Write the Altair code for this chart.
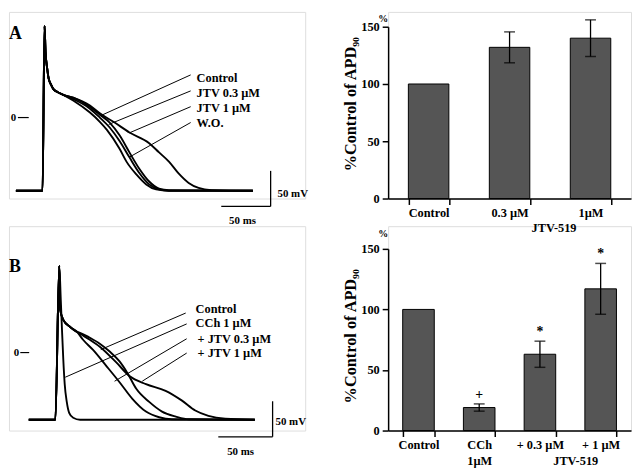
import altair as alt
import pandas as pd

FONT = "Liberation Serif"

# ---------------- Panel A: action potentials (ms, mV) ----------------
A_START_T = [-27, 0, 2, 3, 4.7, 6, 8.7, 11, 15, 21]
A_START_V = [-103, -103, 129, 93, 69, 56, 46, 40, 36, 32]
A_CONTROL_T = [31, 48, 58, 68, 78, 88, 98, 108, 118, 128, 213]
A_CONTROL_V = [28, 15, 4, -7, -25, -49, -72, -90, -100, -102, -103]
A_JTV03_T = [31, 48, 58, 68, 78, 88, 98, 108, 118, 128, 213]
A_JTV03_V = [26, 12.5, 0, -14, -33, -56, -78, -94, -101, -103, -103]
A_JTV1_T = [31, 48, 58, 73, 88, 108, 118, 128, 138, 148, 158, 171, 213]
A_JTV1_V = [28, 17, 6, -7, -21, -36, -49, -62, -79, -92, -99, -102, -103]
A_WO_T = [31, 48, 58, 65, 78, 85, 95, 105, 115, 128, 213]
A_WO_V = [24, 7, -6, -17, -44, -62, -80, -94, -101, -103, -103]

A_LABELS = ["Control", "JTV 0.3 µM", "JTV 1 µM", "W.O."]
A_LABEL_T = [156, 156, 156, 156]
A_LABEL_V = [55.6, 34.7, 13.9, -8.3]
A_LEAD_T0 = [150, 150, 150, 150]
A_LEAD_V0 = [60, 37.5, 15.3, -7]
A_LEAD_T1 = [59.7, 67, 88, 88]
A_LEAD_V1 = [3.2, -9.7, -21.5, -55.6]

# ---------------- Panel B: action potentials (ms, mV) ----------------
B_START_T = [-24.5, 0, 3.6]
B_START_V = [-94.5, -94.5, 122]
B_SHARED_T = [4.5, 7.3, 13.6, 20]
B_SHARED_V = [60, 46, 36, 29]
B_CCH_T = [5, 6.1, 7.3, 8.6, 10.5, 12.7, 16.4, 22.7, 183.6]
B_CCH_V = [73.6, 32, -9.7, -44.4, -69.4, -84.7, -91.7, -94.5, -94.5]
B_CONTROL_T = [22.7, 31.8, 40.9, 50, 59.1, 66.4, 74.5, 86.4, 98.2, 110.9, 122.7, 183.6]
B_CONTROL_V = [27.8, 20.8, 12.5, 1.4, -12.5, -29, -51, -69.4, -83, -90, -93.8, -94.5]
B_JTV03_T = [25.5, 34.5, 47, 59.1, 70.9, 83.4, 95.5, 107.3, 183.6]
B_JTV03_V = [18, 4, -19, -41.7, -65, -83, -91, -93.8, -94.5]
B_JTV1_T = [22.7, 31.8, 40.9, 56.1, 68.2, 83.4, 101.5, 116.6, 128.8, 140.9, 156.4, 183.6]
B_JTV1_V = [26.4, 18, 8.3, -13.9, -33, -44.4, -53.8, -67.6, -81.5, -89, -93, -94.5]

B_LABELS = ["Control", "CCh 1 µM", "+ JTV 0.3 µM", "+ JTV 1 µM"]
B_LABEL_T = [129.1, 129.1, 130.9, 130.9]
B_LABEL_V = [61, 41, 19.4, -0.4]
B_LEAD_T0 = [120, 120.9, 120.9, 120.9]
B_LEAD_V0 = [55.6, 40.3, 19.4, -0.7]
B_LEAD_T1 = [41.8, 9.1, 54.5, 80]
B_LEAD_V1 = [4.2, -34.7, -40.3, -40.3]

# ---------------- Bar charts (% of control APD90) ----------------
A_CATS = ["Control", "0.3 µM", "1µM"]
A_MEAN = [100, 132, 140]
A_SEM = [0, 13.5, 16]
A_MARK = ["", "", ""]

B_CATS = ["Control", "CCh\n1µM", "+ 0.3 µM", "+ 1 µM"]
B_MEAN = [100, 19, 63, 117]
B_SEM = [0, 3, 10.8, 21]
B_MARK = ["", "+", "*", "*"]

Y_TITLE = "%Control of APD₉₀"
GROUP_NOTE = "JTV-519"


def trace_panel(series, leads, labels, extra_segs, extra_texts, xdom, ydom, w, h):
    rows = []
    for name, t, v in series:
        for k, (a, b) in enumerate(zip(t, v)):
            rows.append({"series": name, "i": k, "t": a, "v": b})
    df = pd.DataFrame(rows)
    xs = alt.Scale(domain=xdom, nice=False, zero=False)
    ys = alt.Scale(domain=ydom, nice=False, zero=False)

    lines = alt.Chart(df).mark_line(color="black", strokeWidth=1.9, interpolate="monotone").encode(
        x=alt.X("t:Q", scale=xs, axis=None),
        y=alt.Y("v:Q", scale=ys, axis=None),
        detail="series:N",
        order="i:Q",
    )

    segs = []
    t0, v0, t1, v1 = leads
    for a, b, c, d in zip(t0, v0, t1, v1):
        segs.append({"t0": a, "v0": b, "t1": c, "v1": d, "w": 1.0})
    segs += extra_segs
    seg = alt.Chart(pd.DataFrame(segs)).mark_rule(color="black").encode(
        x=alt.X("t0:Q", scale=xs, axis=None),
        x2="t1:Q",
        y=alt.Y("v0:Q", scale=ys, axis=None),
        y2="v1:Q",
        strokeWidth=alt.StrokeWidth("w:Q", scale=None),
    )

    names, lt, lv = labels
    texts = [{"text": n, "t": a, "v": b, "fs": 12.5, "align": "left"} for n, a, b in zip(names, lt, lv)]
    texts += extra_texts
    tdf = pd.DataFrame(texts)
    layers = [lines, seg]
    for al in ["left", "center"]:
        layers.append(
            alt.Chart(tdf).transform_filter(f"datum.align == '{al}'").mark_text(
                align=al, baseline="middle", font=FONT, fontWeight="bold", color="black"
            ).encode(
                x=alt.X("t:Q", scale=xs, axis=None),
                y=alt.Y("v:Q", scale=ys, axis=None),
                text="text:N",
                size=alt.Size("fs:Q", scale=None),
            )
        )
    return alt.layer(*layers).properties(width=w, height=h)


def bar_panel(cats, means, sems, marks, w, h, yrange, pin, pout, title_y, notes_xy, pct_xy):
    df = pd.DataFrame({"cat": cats, "mean": means, "sem": sems, "mark": marks})
    df["lo"] = df["mean"] - df["sem"]
    df["hi"] = df["mean"] + df["sem"]
    xax = alt.Axis(
        title=None, labelAngle=0, labelExpr="split(datum.label, '\\n')", tickBand="extent",
        labelFont=FONT, labelFontWeight="bold", labelFontSize=12.5, labelColor="black",
        labelPadding=2, labelLineHeight=16, tickSize=6, tickWidth=1.5, tickColor="black",
        domainColor="black", domainWidth=1.5, grid=False,
    )
    x = alt.X("cat:N", sort=cats, scale=alt.Scale(paddingInner=pin, paddingOuter=pout), axis=xax)
    ys = alt.Scale(domain=[0, 150], range=yrange, nice=False, zero=True)
    yax = alt.Axis(
        values=[0, 50, 100, 150], title=Y_TITLE, titleFont=FONT, titleFontWeight="bold",
        titleFontSize=16.5, titleColor="black", titlePadding=2, titleY=title_y,
        labelFont=FONT, labelFontWeight="bold", labelFontSize=12.5, labelColor="black",
        labelPadding=3, tickSize=6, tickWidth=1.5, tickColor="black",
        domainColor="black", domainWidth=1.5, grid=False,
    )
    bars = alt.Chart(df).mark_bar(fill="#555555", stroke="black", strokeWidth=1).encode(
        x=x, y=alt.Y("mean:Q", scale=ys, axis=yax)
    )
    ed = alt.Chart(df).transform_filter("datum.sem > 0")
    err = ed.mark_rule(color="black", strokeWidth=1.3).encode(
        x=x, y=alt.Y("lo:Q", scale=ys, axis=yax), y2="hi:Q"
    )
    cap_hi = ed.mark_tick(color="black", size=11, thickness=1.5).encode(
        x=x, y=alt.Y("hi:Q", scale=ys, axis=yax)
    )
    cap_lo = ed.mark_tick(color="black", size=11, thickness=1.5).encode(
        x=x, y=alt.Y("lo:Q", scale=ys, axis=yax)
    )
    sig = alt.Chart(df).transform_filter("datum.mark != ''").mark_text(
        font=FONT, fontWeight="bold", fontSize=14, color="black", dy=-9
    ).encode(x=x, y=alt.Y("hi:Q", scale=ys, axis=yax), text="mark:N")
    layers = [bars, err, cap_hi, cap_lo, sig]
    for nx, ny in notes_xy:
        layers.append(
            alt.Chart(pd.DataFrame({"s": [GROUP_NOTE]})).mark_text(
                font=FONT, fontWeight="bold", fontSize=12.5, color="black", baseline="middle"
            ).encode(text="s:N", x=alt.value(nx), y=alt.value(ny))
        )
    layers.append(
        alt.Chart(pd.DataFrame({"s": ["%"]})).mark_text(
            font=FONT, fontWeight="bold", fontSize=10, color="black", baseline="middle"
        ).encode(text="s:N", x=alt.value(pct_xy[0]), y=alt.value(pct_xy[1]))
    )
    return alt.layer(*layers).properties(width=w, height=h)


a_series = [
    ("Control", A_START_T + A_CONTROL_T, A_START_V + A_CONTROL_V),
    ("JTV 0.3", A_START_T + A_JTV03_T, A_START_V + A_JTV03_V),
    ("JTV 1", A_START_T + A_JTV1_T, A_START_V + A_JTV1_V),
    ("W.O.", A_START_T + A_WO_T, A_START_V + A_WO_V),
]
a_segs = [
    {"t0": -25, "v0": 0, "t1": -14, "v1": 0, "w": 1.2},
    {"t0": 231, "v0": -75, "t1": 231, "v1": -125, "w": 1.3},
    {"t0": 181, "v0": -125, "t1": 231, "v1": -125, "w": 1.3},
]
a_texts = [
    {"text": "A", "t": -34, "v": 118, "fs": 18, "align": "left"},
    {"text": "50 mV", "t": 238, "v": -107, "fs": 11, "align": "left"},
    {"text": "50 ms", "t": 202.5, "v": -146, "fs": 11, "align": "center"},
    {"text": "0", "t": -29.5, "v": 0, "fs": 11, "align": "center"},
]
trace_a = trace_panel(
    a_series, (A_LEAD_T0, A_LEAD_V0, A_LEAD_T1, A_LEAD_V1), (A_LABELS, A_LABEL_T, A_LABEL_V),
    a_segs, a_texts, [-34, 266], [-113.9, 148.6], 300, 189,
)

b_series = [
    ("Control", B_START_T + B_SHARED_T + B_CONTROL_T, B_START_V + B_SHARED_V + B_CONTROL_V),
    ("CCh", B_START_T + B_CCH_T, B_START_V + B_CCH_V),
    ("JTV 0.3", B_START_T + B_SHARED_T + B_JTV03_T, B_START_V + B_SHARED_V + B_JTV03_V),
    ("JTV 1", B_START_T + B_SHARED_T + B_JTV1_T, B_START_V + B_SHARED_V + B_JTV1_V),
]
b_segs = [
    {"t0": -32.3, "v0": 0, "t1": -24.1, "v1": 0, "w": 1.2},
    {"t0": 200, "v0": -68.5, "t1": 200, "v1": -118.5, "w": 1.3},
    {"t0": 150, "v0": -118.5, "t1": 200, "v1": -118.5, "w": 1.3},
]
b_texts = [
    {"text": "B", "t": -42.7, "v": 120.8, "fs": 18, "align": "left"},
    {"text": "50 mV", "t": 202.7, "v": -97.6, "fs": 11, "align": "left"},
    {"text": "50 ms", "t": 170.5, "v": -139.3, "fs": 11, "align": "center"},
    {"text": "0", "t": -35.9, "v": 0, "fs": 11, "align": "center"},
]
trace_b = trace_panel(
    b_series, (B_LEAD_T0, B_LEAD_V0, B_LEAD_T1, B_LEAD_V1), (B_LABELS, B_LABEL_T, B_LABEL_V),
    b_segs, b_texts, [-42.7, 230], [-109.7, 177.8], 300, 207,
)

# the "JTV-519" caption of the upper bar panel sits in the gap between rows; it is drawn
# with the lower panel so that nothing painted later can cover it
bar_a = bar_panel(A_CATS, A_MEAN, A_SEM, A_MARK, 246, 189, [189, 15], 0.5, 0.25, 93, [], (-5, 7))
bar_b = bar_panel(B_CATS, B_MEAN, B_SEM, B_MARK, 246, 207, [207, 23], 0.48, 0.24, 111,
                  [(168, 2), (190, 238)], (-5, 8))

chart = alt.concat(
    trace_a, bar_a, trace_b, bar_b, columns=2, spacing={"row": 28, "column": 84}, bounds="flush"
).properties(padding=0).configure_view(stroke=None, fill="transparent").configure(background="white")

chart.save("out.html", embed_options={"renderer": "svg", "actions": False})
